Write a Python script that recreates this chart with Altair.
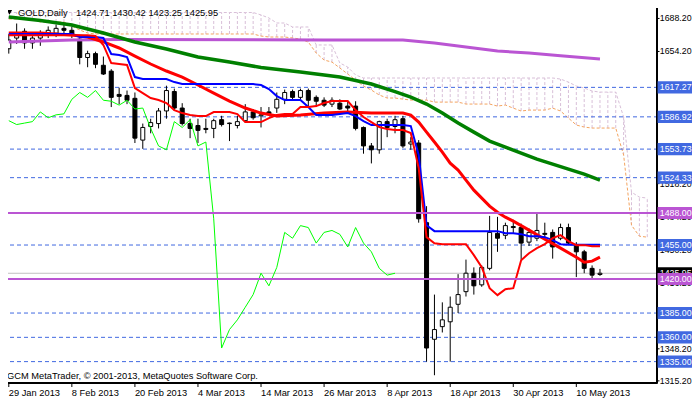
import altair as alt
import pandas as pd

# ---------------- data ----------------
symbol_title = "GOLD,Daily"
copyright_text = "GCM MetaTrader, \u00a9 2001-2013, MetaQuotes Software Corp."

date_labels = ["29 Jan 2013", "8 Feb 2013", "20 Feb 2013", "4 Mar 2013", "14 Mar 2013",
               "26 Mar 2013", "8 Apr 2013", "18 Apr 2013", "30 Apr 2013", "10 May 2013"]
date_ticks = [0, 8, 16, 24, 32, 40, 48, 56, 64, 72]

price_ticks = [1688.2, 1654.2, 1620.2, 1586.2, 1552.2, 1518.2, 1484.2, 1450.2,
               1416.2, 1382.2, 1348.2, 1315.2]

bar_index = list(range(76))
opens = [1657, 1668, 1675, 1663, 1668, 1672, 1673, 1678, 1676, 1667,
         1648, 1652, 1640, 1634, 1610, 1609, 1606, 1563, 1577, 1580,
         1593, 1613, 1596, 1580, 1578, 1575, 1575, 1584, 1580, 1578,
         1583, 1592, 1588, 1592, 1596, 1605, 1613, 1607, 1614, 1607,
         1604, 1600, 1601, 1598, 1598, 1576, 1557, 1553, 1582, 1577,
         1585, 1559, 1560, 1478, 1358, 1371, 1376, 1394, 1407, 1426,
         1414, 1431, 1467, 1465, 1474, 1473, 1458, 1462, 1467, 1468,
         1462, 1473, 1455, 1448, 1431, 1424.71]
highs = [1672, 1683, 1678, 1670, 1676, 1680, 1682, 1683, 1680, 1669,
         1655, 1654, 1649, 1636, 1617, 1614, 1612, 1580, 1585, 1596,
         1619, 1616, 1601, 1585, 1585, 1585, 1585, 1588, 1581, 1588,
         1600, 1595, 1597, 1597, 1612, 1615, 1615, 1616, 1616, 1609,
         1607, 1607, 1605, 1603, 1603, 1577, 1560, 1583, 1585, 1588,
         1588, 1566, 1563, 1495, 1404, 1396, 1402, 1425, 1440, 1432,
         1434, 1485, 1484, 1478, 1481, 1477, 1472, 1487, 1478, 1471,
         1477, 1477, 1458, 1450, 1434, 1430.42]
lows = [1652, 1662, 1657, 1657, 1660, 1668, 1669, 1672, 1668, 1641,
        1638, 1637, 1630, 1597, 1600, 1600, 1560, 1554, 1570, 1575,
        1585, 1593, 1578, 1565, 1560, 1570, 1565, 1577, 1562, 1575,
        1581, 1584, 1576, 1589, 1591, 1600, 1604, 1604, 1598, 1597,
        1597, 1597, 1594, 1592, 1573, 1549, 1539, 1549, 1566, 1570,
        1555, 1553, 1478, 1335, 1321, 1365, 1335, 1385, 1402, 1404,
        1412, 1429, 1448, 1461, 1467, 1440, 1454, 1459, 1463, 1441,
        1460, 1455, 1422, 1426, 1420, 1423.25]
closes = [1666, 1672, 1663, 1668, 1672, 1676, 1678, 1676, 1672, 1648,
          1652, 1641, 1631, 1607, 1608, 1604, 1565, 1576, 1581, 1593,
          1614, 1596, 1580, 1575, 1573, 1574, 1583, 1579, 1580.5, 1582,
          1592, 1586, 1589, 1590, 1605, 1612, 1607, 1614, 1604, 1603,
          1599, 1604, 1595, 1596, 1575, 1557, 1553, 1582, 1576, 1584,
          1557, 1561, 1482, 1349, 1368, 1378, 1391, 1404, 1426, 1413,
          1432, 1468, 1462, 1475, 1473, 1457, 1468, 1470, 1466, 1453,
          1473, 1457, 1448, 1431, 1424, 1425.95]

# moving averages (sampled along the curves)
ma_purple_idx = [0, 8, 14, 40, 50, 54, 58, 62, 66, 70, 75]
ma_purple_val = [1664.0, 1666.0, 1666.5, 1666.0, 1666.0, 1662.9, 1658.8, 1654.7, 1652.6, 1649.8, 1646.4]

ma_green_idx = [0, 4, 8, 12, 16, 20, 24, 28, 32, 37, 42, 46, 49, 51, 53, 55, 57, 59, 61, 63,
                65, 67, 69, 71, 73, 75]
ma_green_val = [1689.7, 1686.1, 1681.5, 1673.2, 1664.0, 1656.7, 1648.5, 1643.3, 1637.7, 1633.0,
                1627.9, 1620.7, 1612.9, 1607.3, 1600.1, 1590.8, 1580.5, 1571.2, 1562.0, 1555.8,
                1549.6, 1543.4, 1538.3, 1533.1, 1528.0, 1521.8]

ma_red_idx = [0, 4, 8, 10, 12, 14, 16, 18, 20, 22, 24, 26, 28, 30, 32, 34, 37, 40, 43, 46,
              50, 51, 52, 53, 54, 55, 56, 57, 58, 59, 60, 61, 62, 63, 64, 66, 68, 70, 72, 73,
              74, 75]
ma_red_val = [1673.2, 1673.2, 1671.2, 1669.1, 1664.0, 1657.8, 1649.5, 1641.3, 1634.1, 1627.9,
              1619.7, 1611.4, 1603.2, 1596.0, 1590.8, 1587.7, 1588.8, 1590.8, 1591.8, 1590.8,
              1590.8, 1588.8, 1581.5, 1571.2, 1561.0, 1550.6, 1539.3, 1532.1, 1521.8, 1511.5,
              1503.3, 1495.0, 1488.8, 1483.7, 1479.6, 1470.3, 1461.0, 1451.8, 1442.5, 1437.3,
              1438.4, 1442.5]

# Ichimoku lines, one value per bar
tenkan = ([1671.0] * 11 +
          [1670.1, 1660.9, 1642.3, 1641.3, 1640.3, 1616.6, 1611.4, 1606.3, 1604.2, 1601.1,
           1593.9, 1590.8, 1588.8, 1587.7, 1587.7, 1591.8, 1591.8, 1591.8, 1589.8, 1581.5,
           1581.5, 1581.5, 1585.7, 1588.8, 1589.8, 1589.8, 1597.0, 1597.0, 1598.0, 1601.1,
           1603.2, 1603.2, 1603.2, 1593.9, 1586.7, 1581.5, 1576.4, 1574.3, 1573.3, 1573.3,
           1570.2, 1534.2, 1463.1, 1456.9, 1455.9, 1455.9, 1455.9, 1455.9, 1444.6, 1432.2,
           1410.6, 1403.4, 1409.5, 1410.6, 1439.4, 1446.6, 1451.8, 1455.9, 1462.1, 1465.2,
           1459.0, 1454.9, 1454.9, 1453.8, 1453.8])
kijun = ([1672.2] * 9 + [1669.1] * 3 +
         [1668.1, 1651.6, 1650.6, 1648.5, 1627.9] + [1625.8] * 4 + [1622.7] + [1620.7] * 10 +
         [1619.7, 1615.5, 1608.3] + [1604.2] * 3 + [1597.0] + [1588.8] * 3 +
         [1589.8, 1590.8, 1587.7, 1582.6] + [1578.5] * 5 + [1577.4, 1547.6, 1475.4] +
         [1469.3] * 9 + [1467.2] * 2 + [1466.2] + [1464.1] * 2 + [1463.1, 1460.0, 1455.9] +
         [1455.4] * 5)
chikou_shift = 26

cloud_index = list(range(82))
span_a = ([1687.6] * 4 + [1684.5] * 4 + [1680.4, 1676.3, 1673.2] + [1672.2] * 21 +
          [1670.1] + [1669.1] * 3 +
          [1668.1, 1667.0, 1663.9, 1652.6, 1645.4, 1643.3, 1637.2, 1631.0, 1624.8, 1618.6,
           1614.5, 1609.4, 1606.3, 1606.3, 1605.2] +
          [1604.2] * 3 + [1602.1] * 4 + [1600.1] * 4 + [1598.0, 1599.1, 1595.9, 1592.9] +
          [1593.9] * 3 + [1595.9, 1592.9, 1585.7, 1578.5, 1576.4] + [1575.4] * 4 +
          [1547.6, 1475.4, 1464.1, 1463.1])
span_b = ([1694.3] * 32 +
          [1691.8, 1688.7, 1683.5, 1683.5, 1679.4, 1679.4, 1679.4, 1660.9, 1660.9, 1660.9,
           1642.3, 1638.2, 1630.0] +
          [1626.9] * 25 +
          [1625.8, 1622.7, 1618.6, 1616.6, 1613.5, 1612.4, 1612.4, 1612.4, 1586.7, 1509.4,
           1504.3, 1503.3])

blue_levels = [1617.27, 1586.92, 1553.73, 1524.33, 1455.00, 1385.00, 1360.00, 1335.00]
purple_levels = [1488.00, 1420.00]

# ---------------- styling helpers ----------------
FONT = "Liberation Sans"
FS = 9.3          # header / footer / dates
RFS = 8.8         # right-hand price scale
PLOT_W, PLOT_H = 654, 380
X_SCALE = alt.Scale(domain=[-0.1, 81.6], nice=False, zero=False)
Y_SCALE = alt.Scale(domain=[1313.0, 1704.1], nice=False, zero=False)


def X(field):
    return alt.X(f"{field}:Q", scale=X_SCALE, axis=None)


def Y(field):
    return alt.Y(f"{field}:Q", scale=Y_SCALE, axis=None)


# ---------------- tables ----------------
candles = pd.DataFrame({"i": bar_index, "o": opens, "h": highs, "l": lows, "c": closes})
candles["body"] = ["white" if c >= o else "black" for o, c in zip(opens, closes)]

cloud_df = pd.DataFrame({"i": cloud_index, "a": span_a, "b": span_b})
ichi_df = pd.DataFrame({"i": bar_index, "tenkan": tenkan, "kijun": kijun})
chikou_df = pd.DataFrame({"i": bar_index[:len(closes) - chikou_shift], "v": closes[chikou_shift:]})
purple_df = pd.DataFrame({"i": ma_purple_idx, "v": ma_purple_val})
green_df = pd.DataFrame({"i": ma_green_idx, "v": ma_green_val})
red_df = pd.DataFrame({"i": ma_red_idx, "v": ma_red_val})
blue_df = pd.DataFrame({"p": blue_levels})
purple_lv_df = pd.DataFrame({"p": purple_levels})
bid_price = closes[-1]
bid_df = pd.DataFrame({"p": [bid_price], "txt": [f"{bid_price:.2f}"]})
box_prices = blue_levels + purple_levels
box_df = pd.DataFrame({"p": box_prices,
                       "bg": ["#4169E1"] * len(blue_levels) + ["#BA55D3"] * len(purple_levels),
                       "txt": [f"{p:.2f}" for p in box_prices]})
xtick_df = pd.DataFrame({"i": date_ticks, "lab": date_labels})
ytick_df = pd.DataFrame({"p": price_ticks, "lab": [f"{p:.2f}" for p in price_ticks]})

header_vals = f"{opens[-1]:.2f} {highs[-1]:.2f} {lows[-1]:.2f} {closes[-1]:.2f}"

# ---------------- layers ----------------
cloud = alt.Chart(cloud_df).mark_rule(color="#D8BFD8", strokeWidth=1, strokeDash=[3, 2]).encode(
    x=X("i"), y=Y("a"), y2=alt.Y2("b"))
span_a_line = alt.Chart(cloud_df).mark_line(color="#F4A460", strokeWidth=1, strokeDash=[3, 2]).encode(
    x=X("i"), y=Y("a"))
span_b_line = alt.Chart(cloud_df).mark_line(color="#D8BFD8", strokeWidth=1, strokeDash=[3, 2]).encode(
    x=X("i"), y=Y("b"))

blue_lines = alt.Chart(blue_df).mark_rule(color="#4169E1", strokeWidth=1, strokeDash=[4, 3]).encode(
    y=Y("p"), x=alt.value(0), x2=alt.value(PLOT_W))
bid_line = alt.Chart(bid_df).mark_rule(color="#C0C0C0", strokeWidth=1).encode(
    y=Y("p"), x=alt.value(0), x2=alt.value(PLOT_W))

wicks = alt.Chart(candles).mark_rule(color="black", strokeWidth=1).encode(
    x=X("i"), y=Y("l"), y2=alt.Y2("h"))
bodies = alt.Chart(candles).mark_bar(size=4, stroke="black", strokeWidth=1).encode(
    x=X("i"), y=Y("o"), y2=alt.Y2("c"), fill=alt.Fill("body:N", scale=None))

purple_ma = alt.Chart(purple_df).mark_line(color="#BA55D3", strokeWidth=3).encode(x=X("i"), y=Y("v"))
green_ma = alt.Chart(green_df).mark_line(color="#008000", strokeWidth=3.5).encode(x=X("i"), y=Y("v"))
red_ma = alt.Chart(red_df).mark_line(color="#FF0000", strokeWidth=3).encode(x=X("i"), y=Y("v"))
chikou = alt.Chart(chikou_df).mark_line(color="#00FF00", strokeWidth=1).encode(x=X("i"), y=Y("v"))
kijun_line = alt.Chart(ichi_df).mark_line(color="#0000FF", strokeWidth=2).encode(x=X("i"), y=Y("kijun"))
tenkan_line = alt.Chart(ichi_df).mark_line(color="#FF0000", strokeWidth=2).encode(x=X("i"), y=Y("tenkan"))

purple_lines = alt.Chart(purple_lv_df).mark_rule(color="#BA55D3", strokeWidth=2).encode(
    y=Y("p"), x=alt.value(0), x2=alt.value(PLOT_W))

# frame and hand-drawn scales (right price scale, bottom date scale)
frame_right = alt.Chart(bid_df).mark_rule(color="black", strokeWidth=1).encode(
    x=alt.value(PLOT_W - 0.5), y=alt.value(0), y2=alt.value(PLOT_H))
frame_bottom = alt.Chart(bid_df).mark_rule(color="black", strokeWidth=1).encode(
    y=alt.value(PLOT_H - 0.5), x=alt.value(0), x2=alt.value(PLOT_W))
ytick_marks = alt.Chart(ytick_df).mark_rule(color="black", strokeWidth=1).encode(
    y=Y("p"), x=alt.value(PLOT_W), x2=alt.value(PLOT_W + 2.5))
ytick_text = alt.Chart(ytick_df).mark_text(align="left", baseline="middle", color="black",
                                           font=FONT, fontSize=RFS).encode(
    x=alt.value(PLOT_W + 2.8), y=Y("p"), text="lab:N")
xtick_marks = alt.Chart(xtick_df).mark_rule(color="black", strokeWidth=1).encode(
    x=X("i"), y=alt.value(PLOT_H), y2=alt.value(PLOT_H + 4))
xtick_text = alt.Chart(xtick_df).mark_text(align="left", baseline="middle", color="black",
                                           font=FONT, fontSize=FS).encode(
    x=X("i"), y=alt.value(PLOT_H + 10), text="lab:N")

BOX_HALF_W = 17.3
BOX_PATH = "M-1,-0.35L1,-0.35L1,0.35L-1,0.35Z"
BOX_SIZE = (2 * BOX_HALF_W) ** 2
BOX_X = PLOT_W + 0.6 + BOX_HALF_W
TXT_X = PLOT_W + 2.8
bid_box = alt.Chart(bid_df).mark_point(shape=BOX_PATH, size=BOX_SIZE, filled=True, opacity=1,
                                       color="black").encode(x=alt.value(BOX_X), y=Y("p"))
bid_txt = alt.Chart(bid_df).mark_text(align="left", baseline="middle", color="white", font=FONT,
                                      fontSize=RFS).encode(x=alt.value(TXT_X), y=Y("p"), text="txt:N")
boxes = alt.Chart(box_df).mark_point(shape=BOX_PATH, size=BOX_SIZE, filled=True, opacity=1).encode(
    x=alt.value(BOX_X), y=Y("p"), color=alt.Color("bg:N", scale=None))
box_txt = alt.Chart(box_df).mark_text(align="left", baseline="middle", color="white", font=FONT,
                                      fontSize=RFS).encode(x=alt.value(TXT_X), y=Y("p"), text="txt:N")

HDR_Y = 9.9
tri = alt.Chart(pd.DataFrame({"t": [symbol_title]})).mark_point(
    shape="triangle-down", filled=True, color="black", size=28, opacity=1).encode(
    x=alt.value(6.5), y=alt.value(HDR_Y - 0.5))
hdr1 = alt.Chart(pd.DataFrame({"t": [symbol_title]})).mark_text(
    align="left", baseline="middle", color="black", font=FONT, fontSize=FS).encode(
    x=alt.value(15), y=alt.value(HDR_Y), text="t:N")
hdr2 = alt.Chart(pd.DataFrame({"t": [header_vals]})).mark_text(
    align="left", baseline="middle", color="black", font=FONT, fontSize=FS).encode(
    x=alt.value(73), y=alt.value(HDR_Y), text="t:N")
footer = alt.Chart(pd.DataFrame({"t": [copyright_text]})).mark_text(
    align="left", baseline="middle", color="black", font=FONT, fontSize=FS).encode(
    x=alt.value(4), y=alt.value(373), text="t:N")

chart = alt.layer(
    cloud, span_a_line, span_b_line, blue_lines, bid_line, wicks, bodies,
    purple_ma, green_ma, red_ma, chikou, kijun_line, tenkan_line, purple_lines,
    frame_right, frame_bottom, ytick_marks, ytick_text, xtick_marks, xtick_text,
    bid_box, bid_txt, boxes, box_txt, tri, hdr1, hdr2, footer
).properties(
    width=PLOT_W, height=PLOT_H,
    autosize=alt.AutoSizeParams(type="none"),
    padding={"left": -5, "top": -5, "right": 35, "bottom": 19},
    background="white",
).configure_view(stroke="black", strokeWidth=1)

chart.save("out.html", embed_options={"renderer": "svg", "actions": False})
